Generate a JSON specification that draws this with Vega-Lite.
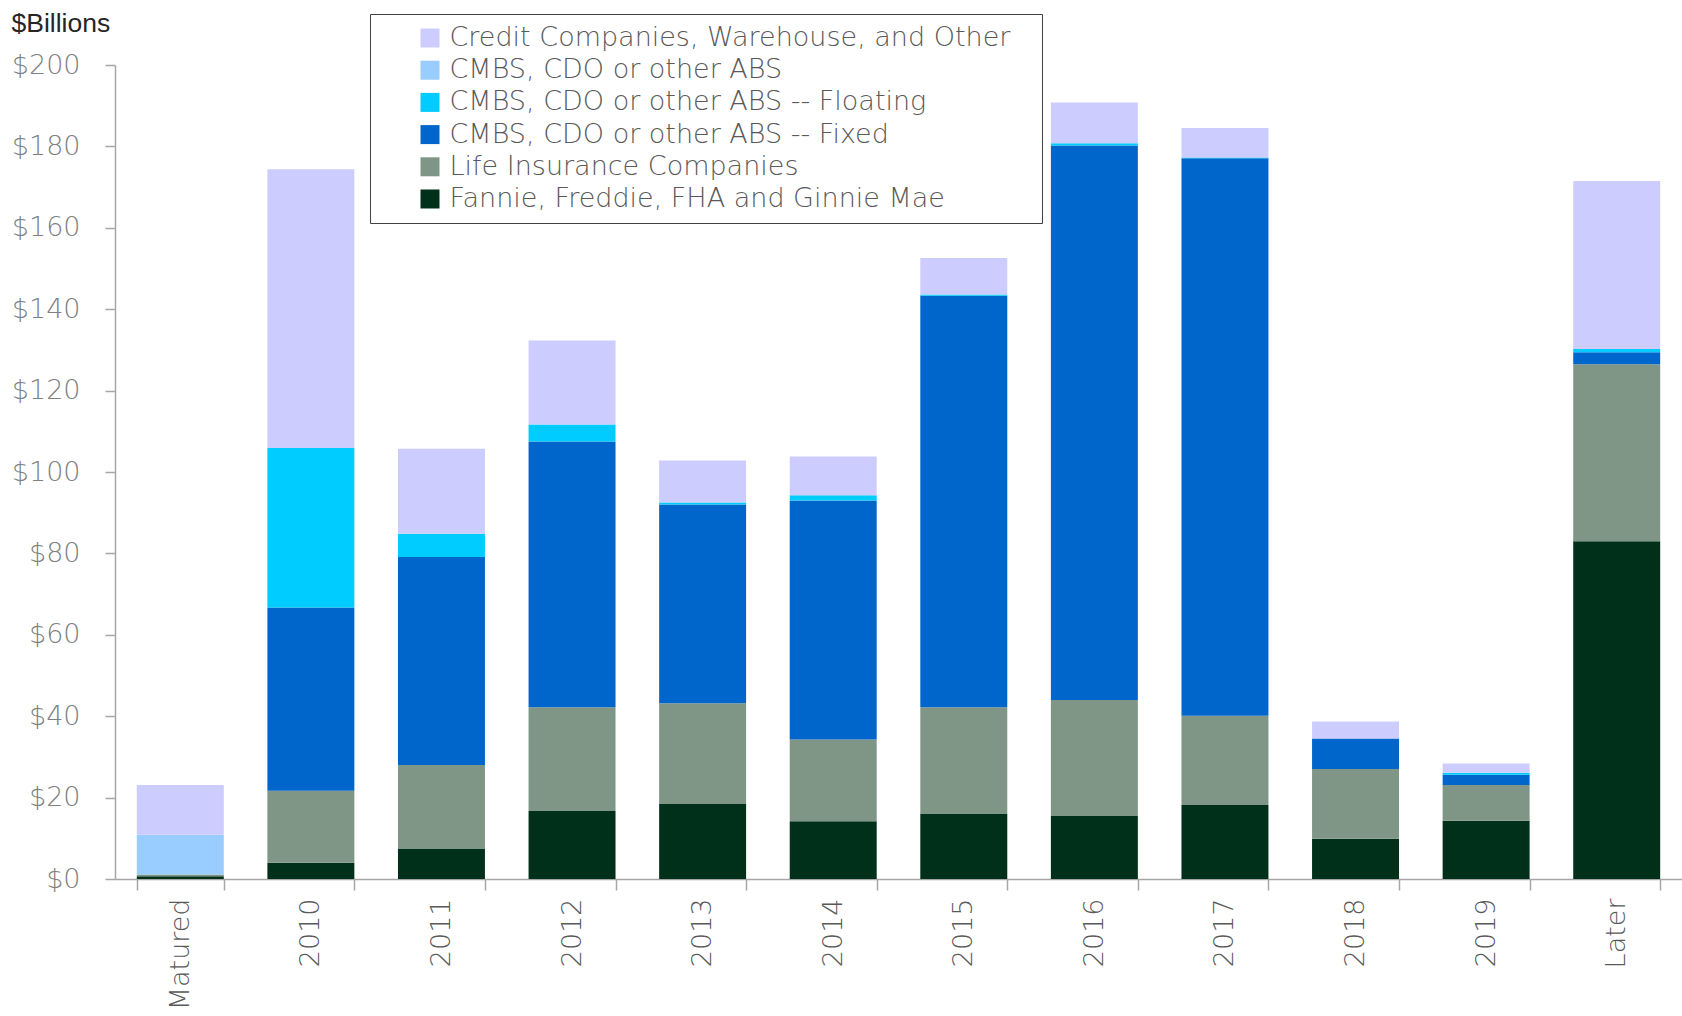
{
  "$schema": "https://vega.github.io/schema/vega-lite/v6.json",
  "autosize": {"type": "none"},
  "width": 1567,
  "height": 814,
  "padding": {"left": 115, "top": 65, "right": 0, "bottom": 137},
  "background": "white",
  "datasets": {
    "ranks": [
      {"key": "Fannie, Freddie, FHA and Ginnie Mae", "rank": 1},
      {"key": "Life Insurance Companies", "rank": 2},
      {"key": "CMBS, CDO or other ABS -- Fixed", "rank": 3},
      {"key": "CMBS, CDO or other ABS -- Floating", "rank": 4},
      {"key": "CMBS, CDO or other ABS", "rank": 5},
      {"key": "Credit Companies, Warehouse, and Other", "rank": 6}
    ]
  },
  "data": {
    "values": [
      {"period": "Matured", "Fannie, Freddie, FHA and Ginnie Mae": 0.7, "Life Insurance Companies": 0.4, "CMBS, CDO or other ABS -- Fixed": 0, "CMBS, CDO or other ABS -- Floating": 0, "CMBS, CDO or other ABS": 9.8, "Credit Companies, Warehouse, and Other": 12.2},
      {"period": "2010", "Fannie, Freddie, FHA and Ginnie Mae": 4.0, "Life Insurance Companies": 17.7, "CMBS, CDO or other ABS -- Fixed": 45.0, "CMBS, CDO or other ABS -- Floating": 39.2, "CMBS, CDO or other ABS": 0, "Credit Companies, Warehouse, and Other": 68.5},
      {"period": "2011", "Fannie, Freddie, FHA and Ginnie Mae": 7.5, "Life Insurance Companies": 20.5, "CMBS, CDO or other ABS -- Fixed": 51.1, "CMBS, CDO or other ABS -- Floating": 5.7, "CMBS, CDO or other ABS": 0, "Credit Companies, Warehouse, and Other": 20.9},
      {"period": "2012", "Fannie, Freddie, FHA and Ginnie Mae": 16.7, "Life Insurance Companies": 25.5, "CMBS, CDO or other ABS -- Fixed": 65.3, "CMBS, CDO or other ABS -- Floating": 4.2, "CMBS, CDO or other ABS": 0, "Credit Companies, Warehouse, and Other": 20.6},
      {"period": "2013", "Fannie, Freddie, FHA and Ginnie Mae": 18.4, "Life Insurance Companies": 24.8, "CMBS, CDO or other ABS -- Fixed": 48.8, "CMBS, CDO or other ABS -- Floating": 0.5, "CMBS, CDO or other ABS": 0, "Credit Companies, Warehouse, and Other": 10.3},
      {"period": "2014", "Fannie, Freddie, FHA and Ginnie Mae": 14.2, "Life Insurance Companies": 20.1, "CMBS, CDO or other ABS -- Fixed": 58.7, "CMBS, CDO or other ABS -- Floating": 1.3, "CMBS, CDO or other ABS": 0, "Credit Companies, Warehouse, and Other": 9.5},
      {"period": "2015", "Fannie, Freddie, FHA and Ginnie Mae": 16.1, "Life Insurance Companies": 26.1, "CMBS, CDO or other ABS -- Fixed": 101.1, "CMBS, CDO or other ABS -- Floating": 0.3, "CMBS, CDO or other ABS": 0, "Credit Companies, Warehouse, and Other": 9.0},
      {"period": "2016", "Fannie, Freddie, FHA and Ginnie Mae": 15.5, "Life Insurance Companies": 28.5, "CMBS, CDO or other ABS -- Fixed": 136.2, "CMBS, CDO or other ABS -- Floating": 0.6, "CMBS, CDO or other ABS": 0, "Credit Companies, Warehouse, and Other": 10.0},
      {"period": "2017", "Fannie, Freddie, FHA and Ginnie Mae": 18.2, "Life Insurance Companies": 21.9, "CMBS, CDO or other ABS -- Fixed": 137.0, "CMBS, CDO or other ABS -- Floating": 0.2, "CMBS, CDO or other ABS": 0, "Credit Companies, Warehouse, and Other": 7.2},
      {"period": "2018", "Fannie, Freddie, FHA and Ginnie Mae": 9.9, "Life Insurance Companies": 17.1, "CMBS, CDO or other ABS -- Fixed": 7.5, "CMBS, CDO or other ABS -- Floating": 0, "CMBS, CDO or other ABS": 0, "Credit Companies, Warehouse, and Other": 4.2},
      {"period": "2019", "Fannie, Freddie, FHA and Ginnie Mae": 14.3, "Life Insurance Companies": 8.8, "CMBS, CDO or other ABS -- Fixed": 2.5, "CMBS, CDO or other ABS -- Floating": 0.5, "CMBS, CDO or other ABS": 0, "Credit Companies, Warehouse, and Other": 2.3},
      {"period": "Later", "Fannie, Freddie, FHA and Ginnie Mae": 83.0, "Life Insurance Companies": 43.5, "CMBS, CDO or other ABS -- Fixed": 2.9, "CMBS, CDO or other ABS -- Floating": 0.8, "CMBS, CDO or other ABS": 0, "Credit Companies, Warehouse, and Other": 41.3}
    ]
  },
  "transform": [
    {"fold": ["Fannie, Freddie, FHA and Ginnie Mae", "Life Insurance Companies", "CMBS, CDO or other ABS -- Fixed", "CMBS, CDO or other ABS -- Floating", "CMBS, CDO or other ABS", "Credit Companies, Warehouse, and Other"], "as": ["key", "value"]},
    {"lookup": "key", "from": {"data": {"name": "ranks"}, "key": "key", "fields": ["rank"]}}
  ],
  "mark": {"type": "bar"},
  "encoding": {
    "x": {
      "field": "period",
      "type": "nominal",
      "sort": null,
      "scale": {"paddingInner": 0.334, "paddingOuter": 0.167},
      "axis": {
        "title": null,
        "labelAngle": 270,
        "labelAlign": "right",
        "labelBaseline": "middle",
        "labelFont": "DejaVu Sans",
        "labelFontWeight": 200,
        "labelFontSize": 27,
        "labelColor": "#595959",
        "labelPadding": 8,
        "tickBand": "extent",
        "tickSize": 11,
        "tickColor": "#A6A6A6",
        "domainColor": "#A6A6A6",
        "domainWidth": 1.5,
        "tickWidth": 1.5
      }
    },
    "y": {
      "field": "value",
      "type": "quantitative",
      "stack": "zero",
      "scale": {"domain": [0, 200], "nice": false},
      "axis": {
        "title": "$Billions",
        "titleAngle": 0,
        "titleAlign": "left",
        "titleBaseline": "alphabetic",
        "titleX": -104,
        "titleY": -34,
        "titleFont": "Liberation Sans",
        "titleFontSize": 26.5,
        "titleFontWeight": "normal",
        "titleColor": "#262626",
        "values": [0, 20, 40, 60, 80, 100, 120, 140, 160, 180, 200],
        "labelExpr": "'$' + datum.value",
        "labelFont": "DejaVu Sans",
        "labelFontWeight": 200,
        "labelFontSize": 27,
        "labelColor": "#808080",
        "labelPadding": 25,
        "tickSize": 10,
        "tickColor": "#A6A6A6",
        "domainColor": "#A6A6A6",
        "domainWidth": 1.5,
        "tickWidth": 1.5,
        "grid": false
      }
    },
    "color": {
      "field": "key",
      "type": "nominal",
      "scale": {
        "domain": ["Credit Companies, Warehouse, and Other", "CMBS, CDO or other ABS", "CMBS, CDO or other ABS -- Floating", "CMBS, CDO or other ABS -- Fixed", "Life Insurance Companies", "Fannie, Freddie, FHA and Ginnie Mae"],
        "range": ["#CCCCFF", "#99CCFF", "#00CCFF", "#0066CC", "#7F9687", "#00301A"]
      },
      "legend": {
        "title": " ",
        "titleOrient": "right",
        "titlePadding": 21,
        "titleFontSize": 10,
        "orient": "none",
        "legendX": 255,
        "legendY": -51,
        "direction": "vertical",
        "strokeColor": "#404040",
        "fillColor": "white",
        "padding": 10.5,
        "symbolType": "square",
        "symbolSize": 361,
        "symbolStrokeWidth": 0,
        "symbolOffset": 36,
        "labelFont": "DejaVu Sans",
        "labelFontWeight": 200,
        "labelFontSize": 27,
        "labelColor": "#595959",
        "labelOffset": 6,
        "labelLimit": 800,
        "rowPadding": 4.2
      }
    },
    "order": {"field": "rank", "type": "quantitative", "sort": "ascending"}
  },
  "config": {"view": {"stroke": null}}
}
